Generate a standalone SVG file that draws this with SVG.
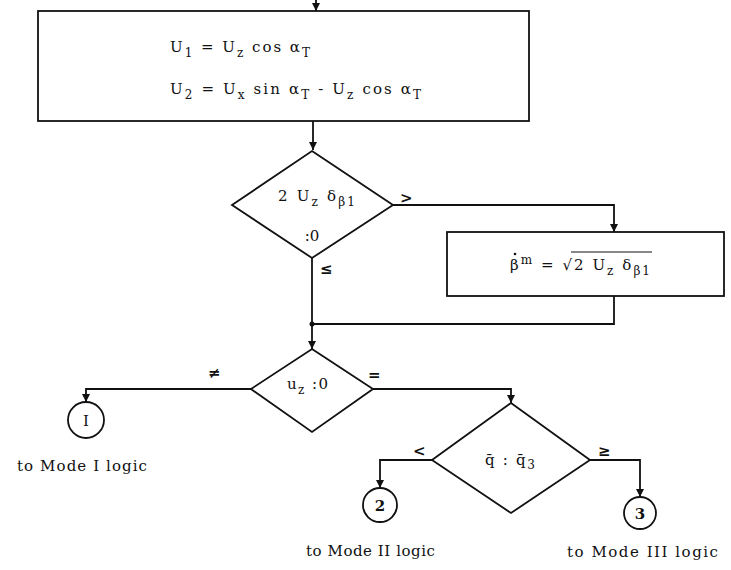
<svg xmlns="http://www.w3.org/2000/svg" width="731" height="570" viewBox="0 0 731 570" xml:space="preserve">
<defs>
<marker id="ah" viewBox="0 0 10 10" refX="10" refY="5" markerWidth="11" markerHeight="8" orient="auto" markerUnits="userSpaceOnUse">
<path d="M0,0 L10,5 L0,10 z" fill="#111"/>
</marker>
<style>
.shape{fill:#fff;stroke:#111;stroke-width:1.8}
.conn{fill:none;stroke:#111;stroke-width:1.8}
text{font-family:"DejaVu Serif","Liberation Serif",serif;fill:#111;font-size:15px}
.sub{font-size:12px}
.lbl{font-size:15px;font-weight:bold}
</style>
</defs>
<rect width="731" height="570" fill="#fff"/>
<g id="connectors">
<path class="conn" d="M316,0 L316,11" marker-end="url(#ah)"/>
<path class="conn" d="M313,121 L313,150" marker-end="url(#ah)"/>
<path class="conn" d="M393,205 L614,205 L614,232" marker-end="url(#ah)"/>
<path class="conn" d="M312,258 L312,324"/>
<path class="conn" d="M614,296 L614,324 L312,324"/>
<circle cx="312" cy="324" r="2.5" fill="#111"/>
<path class="conn" d="M312,324 L312,349" marker-end="url(#ah)"/>
<path class="conn" d="M251,389 L86,389 L86,402" marker-end="url(#ah)"/>
<path class="conn" d="M373,389 L511,389 L511,403" marker-end="url(#ah)"/>
<path class="conn" d="M432,460 L380,460 L380,488" marker-end="url(#ah)"/>
<path class="conn" d="M590,460 L640,460 L640,497" marker-end="url(#ah)"/>
<text x="400" y="203" class="lbl">&gt;</text>
<text x="320" y="274" class="lbl">≤</text>
<text x="208" y="378" class="lbl">≠</text>
<text x="368" y="380" class="lbl">=</text>
<text x="413" y="456" class="lbl">&lt;</text>
<text x="598" y="456" class="lbl">≥</text>
</g>
<g id="box1">
<rect class="shape" x="38" y="11" width="491" height="110"/>
<text x="170" y="52" textLength="140" lengthAdjust="spacing">U<tspan class="sub" dy="5">1</tspan><tspan dy="-5"> = U</tspan><tspan class="sub" dy="5">z</tspan><tspan dy="-5"> cos α</tspan><tspan class="sub" dy="5">T</tspan></text>
<text x="170" y="94" textLength="251" lengthAdjust="spacing">U<tspan class="sub" dy="5">2</tspan><tspan dy="-5"> = U</tspan><tspan class="sub" dy="5">x</tspan><tspan dy="-5"> sin α</tspan><tspan class="sub" dy="5">T</tspan><tspan dy="-5"> - U</tspan><tspan class="sub" dy="5">z</tspan><tspan dy="-5"> cos α</tspan><tspan class="sub" dy="5">T</tspan></text>
</g>
<g id="decision1">
<polygon class="shape" points="312,151 393,205 312,258 232,205"/>
<text x="278" y="201" textLength="77" lengthAdjust="spacing">2 U<tspan class="sub" dy="5">z</tspan><tspan dy="-5"> δ</tspan><tspan class="sub" dy="5">β1</tspan></text>
<text x="312" y="241" text-anchor="middle">:0</text>
</g>
<g id="box2">
<rect class="shape" x="447" y="232" width="277" height="64"/>
<text x="510" y="270" textLength="140" lengthAdjust="spacing">β<tspan class="sub" dy="-6" font-size="14">m</tspan><tspan dy="6"> = √2 U</tspan><tspan class="sub" dy="5">z</tspan><tspan dy="-5"> δ</tspan><tspan class="sub" dy="5">β1</tspan></text>
<circle cx="515" cy="254" r="1.3" fill="#111"/>
<line x1="571" y1="252" x2="652" y2="252" stroke="#111" stroke-width="1.2"/>
</g>
<g id="decision2">
<polygon class="shape" points="312,349 373,389 312,432 251,389"/>
<text x="287" y="389" textLength="41" lengthAdjust="spacing">u<tspan class="sub" dy="5">z</tspan><tspan dy="-5"> :0</tspan></text>
</g>
<g id="decision3">
<polygon class="shape" points="511,403 590,460 511,513 432,460"/>
<text x="485" y="465" textLength="50" lengthAdjust="spacing">q̄ : q̄<tspan class="sub" dy="4" font-size="14">3</tspan></text>
</g>
<g id="conn1">
<circle class="shape" cx="86" cy="420" r="18"/>
<text x="86" y="426" text-anchor="middle" font-size="15">I</text>
<text x="17" y="471" textLength="130" font-size="14">to Mode I logic</text>
</g>
<g id="conn2">
<circle class="shape" cx="380" cy="505" r="17"/>
<text x="380" y="511" text-anchor="middle" font-size="15" font-weight="bold">2</text>
<text x="306" y="556" textLength="129" font-size="14">to Mode II logic</text>
</g>
<g id="conn3">
<circle class="shape" cx="640" cy="513" r="16"/>
<text x="640" y="519" text-anchor="middle" font-size="15" font-weight="bold">3</text>
<text x="567" y="557" textLength="151" font-size="14">to Mode III logic</text>
</g>
</svg>
